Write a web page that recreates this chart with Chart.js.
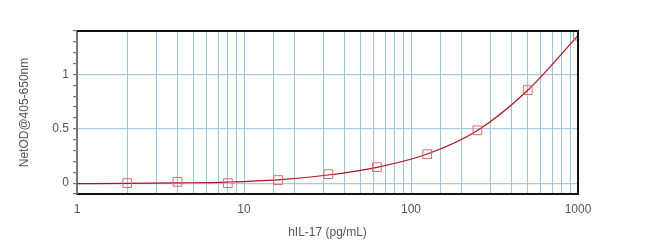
<!DOCTYPE html>
<html>
<head>
<meta charset="utf-8">
<script src="https://cdn.jsdelivr.net/npm/chart.js@4.4.1/dist/chart.umd.min.js"></script>
<style>
  html, body { margin: 0; padding: 0; background: #fff; }
  #wrap { width: 650px; height: 244px; }
</style>
</head>
<body>
<div id="wrap"><canvas id="c"></canvas></div>
<script>
/* ---------- data ---------- */
const concs   = [2, 4, 8, 16, 32, 62.5, 125, 250, 500, 1000];   // hIL-17 pg/mL
const netOD   = [0.0, 0.012, 0.0, 0.028, 0.083, 0.147, 0.266, 0.486, 0.856, 1.358];
const fitX    = [1, 2, 4, 8, 16, 32, 62.5, 125, 250, 500, 1000];
const fitY    = [-0.004, -0.003, 0.002, 0.01, 0.03, 0.075, 0.145, 0.268, 0.485, 0.855, 1.358];
const yLabels = [0, 0.5, 1];
const xLabels = [1, 10, 100, 1000];

/* ---------- helpers ---------- */
const toXY   = (xs, ys) => xs.map((x, i) => ({ x, y: ys[i] }));
const isLbl  = v => yLabels.some(l => Math.abs(l - v) < 1e-6);
const txt    = "#555";
const font   = { family: "'Liberation Sans', Arial, sans-serif", size: 12 };

/* frame on top + right */
const frame = {
  id: "frame",
  afterDraw (chart) {
    const { ctx, chartArea: a } = chart;
    ctx.save();
    ctx.strokeStyle = "#111";
    ctx.lineWidth = 2;
    ctx.beginPath();
    ctx.moveTo(a.left, a.top);
    ctx.lineTo(a.right, a.top);
    ctx.lineTo(a.right, a.bottom);
    ctx.stroke();
    ctx.restore();
  }
};

new Chart(document.getElementById("c"), {
  type: "scatter",
  data: {
    datasets: [
      { label: "fit", data: toXY(fitX, fitY), showLine: true,
        borderColor: "#b0141e", borderWidth: 1.2, pointRadius: 0,
        cubicInterpolationMode: "monotone", order: 2 },
      { label: "std", data: toXY(concs, netOD), showLine: false,
        pointStyle: "rect", pointRadius: 6.2, borderWidth: 1,
        borderColor: "#dc6a6a", backgroundColor: "rgba(0,0,0,0)", order: 1 }
    ]
  },
  options: {
    responsive: true, maintainAspectRatio: false, animation: false,
    layout: { padding: { top: 31, right: 72, left: 0, bottom: 0 } },
    plugins: { legend: { display: false }, tooltip: { enabled: false } },
    scales: {
      x: {
        type: "logarithmic", min: 1, max: 1000,
        afterFit: s => { s.height = 50; },
        border: { color: "#111", width: 2 },
        grid: { color: "rgba(120,170,205,0.7)", drawTicks: false, lineWidth: 1 },
        ticks: {
          autoSkip: false, maxRotation: 0, padding: 8, color: txt, font,
          callback: v => xLabels.includes(v) ? String(v) : ""
        },
        title: { display: true, text: "hIL-17 (pg/mL)", color: txt,
                 font, padding: { top: 0, bottom: 4 } }
      },
      y: {
        min: -0.1, max: 1.4,
        afterFit: s => { s.width = 77; },
        border: { color: "#777", width: 2 },
        grid: {
          color: c => isLbl(c.tick.value) ? "rgba(150,195,225,0.85)" : "rgba(0,0,0,0)",
          tickColor: "#777", tickLength: 4, lineWidth: 1.2
        },
        ticks: {
          stepSize: 0.1, maxTicksLimit: 30, autoSkip: false,
          padding: 4, color: txt, font,
          callback: v => isLbl(v) ? String(Math.round(v * 10) / 10) : ""
        },
        title: { display: true, text: "NetOD@405-650nm", color: txt,
                 font, padding: { top: 17, bottom: 0 } }
      }
    }
  },
  plugins: [frame]
});
</script>
</body>
</html>
